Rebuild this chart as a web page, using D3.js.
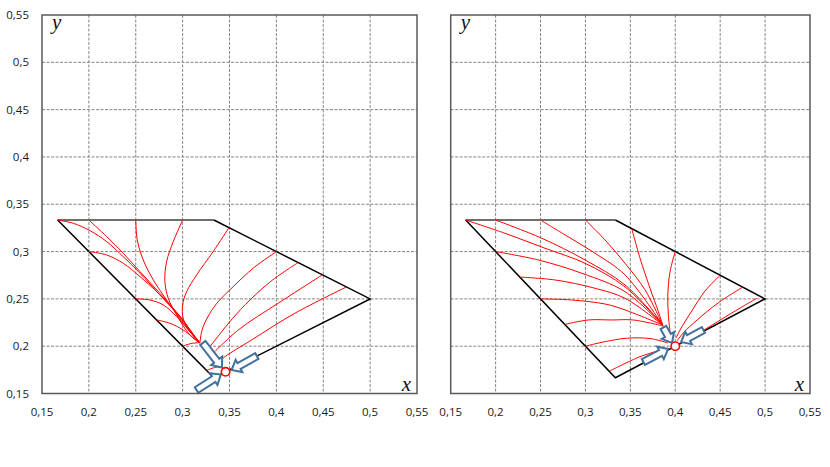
<!DOCTYPE html>
<html><head><meta charset="utf-8">
<script src="https://cdn.jsdelivr.net/npm/d3@7/dist/d3.min.js"></script>
<style>body{margin:0;background:#fff}</style>
</head><body>
<svg id="chart" width="830" height="467"></svg>
<script>
// ---------- data ----------
const xTicks = [0.15, 0.2, 0.25, 0.3, 0.35, 0.4, 0.45, 0.5, 0.55];
const yTicks = [0.15, 0.2, 0.25, 0.3, 0.35, 0.4, 0.45, 0.5, 0.55];
const regionTop = [[1/6, 1/3], [1/3, 1/3]];
const regionRest = [[1/3, 1/3], [0.5, 0.25], [1/3, 1/6], [1/6, 1/3]];

const leftCurves = [
  [[0.1667,0.3333],[0.1834,0.3299],[0.2012,0.3221],[0.2190,0.3105],[0.2367,0.2946],[0.2545,0.2771],[0.2758,0.2541],[0.2971,0.2312],[0.3177,0.2037]],
  [[0.2,0.3333],[0.2190,0.3158],[0.2367,0.2982],[0.2545,0.2788],[0.2758,0.2559],[0.2971,0.2318],[0.3177,0.2037]],
  [[0.2,0.3],[0.2190,0.2964],[0.2367,0.2876],[0.2545,0.2735],[0.2723,0.2576],[0.2936,0.2348],[0.3177,0.2037]],
  [[0.25,0.3333],[0.2516,0.3123],[0.2580,0.2911],[0.2687,0.2700],[0.2829,0.2488],[0.3006,0.2242],[0.3177,0.2037]],
  [[0.3,0.3333],[0.2900,0.3105],[0.2829,0.2893],[0.2811,0.2682],[0.2847,0.2506],[0.2936,0.2330],[0.3078,0.2118],[0.3177,0.2037]],
  [[0.3494,0.3253],[0.3326,0.3000],[0.3149,0.2753],[0.3043,0.2576],[0.3000,0.2436],[0.3006,0.2295],[0.3078,0.2153],[0.3184,0.2048]],
  [[0.25,0.25],[0.2651,0.2488],[0.2793,0.2436],[0.2936,0.2312],[0.3177,0.2037]],
  [[0.2723,0.2277],[0.2865,0.2242],[0.3006,0.2171],[0.3177,0.2037]],
  [[0.3,0.2],[0.309,0.2028],[0.3177,0.2037]],
  [[0.3256,0.1744],[0.3344,0.1775],[0.3416,0.1783]],
  [[0.4,0.3],[0.3760,0.2830],[0.3539,0.2629],[0.3380,0.2470],[0.3291,0.2348],[0.3210,0.2180],[0.3184,0.2031]],
  [[0.4233,0.2884],[0.3960,0.2700],[0.3720,0.2490],[0.3530,0.2290],[0.3390,0.2120],[0.3270,0.1968]],
  [[0.4492,0.2754],[0.4019,0.2454],[0.3593,0.2171],[0.3312,0.1913]],
  [[0.4748,0.2626],[0.4197,0.2348],[0.3736,0.2066],[0.3451,0.1889],[0.3380,0.1830]]
];
const rightCurves = [
  [[0.1667,0.3333],[0.2105,0.3193],[0.2550,0.3035],[0.2996,0.2876],[0.3441,0.2626],[0.3859,0.2224]],
  [[0.2,0.3333],[0.2513,0.3141],[0.2996,0.2911],[0.3441,0.2647],[0.3859,0.2224]],
  [[0.25,0.3333],[0.2773,0.3176],[0.3107,0.2982],[0.3441,0.2753],[0.3859,0.2224]],
  [[0.3,0.3333],[0.3218,0.3123],[0.3441,0.2876],[0.3664,0.2594],[0.3859,0.2224]],
  [[0.2,0.3],[0.2476,0.2911],[0.2959,0.2771],[0.3441,0.2576],[0.3859,0.2224]],
  [[0.227,0.273],[0.2661,0.2700],[0.3107,0.2612],[0.3441,0.2506],[0.3859,0.2224]],
  [[0.25,0.25],[0.2847,0.2488],[0.3218,0.2446],[0.3441,0.2383],[0.3859,0.2224]],
  [[0.277,0.223],[0.3032,0.2277],[0.3293,0.2277],[0.3533,0.2277],[0.3859,0.2214]],
  [[0.3,0.2],[0.3218,0.2048],[0.3460,0.2084],[0.3719,0.2081],[0.3920,0.2034]],
  [[0.3265,0.1735],[0.3608,0.1889],[0.3920,0.1981]],
  [[0.3516,0.3242],[0.3608,0.2929],[0.3719,0.2612],[0.3812,0.2365],[0.3868,0.2203]],
  [[0.4,0.3],[0.3942,0.2788],[0.3917,0.2541],[0.3923,0.2330],[0.3942,0.2150]],
  [[0.45,0.275],[0.4332,0.2584],[0.4184,0.2372],[0.4053,0.2171],[0.4009,0.2087]],
  [[0.475,0.2625],[0.4477,0.2457],[0.4243,0.2277],[0.4090,0.2140],[0.4020,0.2055]],
  [[0.4908,0.2506],[0.4610,0.2340],[0.4351,0.2189],[0.4053,0.2023]]
];
const leftFixed = [0.3458, 0.1729];
const rightFixed = [0.4, 0.2];
const leftArrows = [
  [[0.3216,0.2034],[0.3419,0.1775]],
  [[0.3792,0.1896],[0.3522,0.1748]],
  [[0.3149,0.1537],[0.3408,0.1701]]
];
const rightArrows = [
  [[0.3868,0.2198],[0.3964,0.2034]],
  [[0.4313,0.2171],[0.4065,0.2044]],
  [[0.3645,0.1833],[0.3920,0.1970]]
];

// ---------- drawing ----------
const svg = d3.select("#chart");
const loc = d3.formatLocale({decimal: ",", thousands: " ", grouping: [3], currency: ["", ""]});
const fmt = loc.format("~g");
const plotTop = 15, plotBottom = 393.5;
const panels = [
  {x0: 42, x1: 417, curves: leftCurves, fixed: leftFixed, arrows: leftArrows, yLabels: true},
  {x0: 450.7, x1: 810, curves: rightCurves, fixed: rightFixed, arrows: rightArrows, yLabels: false}
];
const fontTicks = "'Open Sans', 'Liberation Sans', sans-serif";

panels.forEach(p => {
  const x = d3.scaleLinear().domain([0.15, 0.55]).range([p.x0, p.x1]);
  const y = d3.scaleLinear().domain([0.15, 0.55]).range([plotBottom, plotTop]);
  const g = svg.append("g");

  // grid
  g.append("g").selectAll("line").data(xTicks.slice(1, -1)).join("line")
    .attr("x1", d => x(d)).attr("x2", d => x(d)).attr("y1", plotTop).attr("y2", plotBottom)
    .attr("stroke", "#858585").attr("stroke-width", 1).attr("stroke-dasharray", "3,1.5");
  g.append("g").selectAll("line").data(yTicks.slice(1, -1)).join("line")
    .attr("y1", d => y(d)).attr("y2", d => y(d)).attr("x1", p.x0).attr("x2", p.x1)
    .attr("stroke", "#858585").attr("stroke-width", 1).attr("stroke-dasharray", "3,1.5");

  // tick labels
  g.append("g").selectAll("text").data(xTicks).join("text")
    .attr("x", d => x(d)).attr("y", 416).attr("text-anchor", "middle")
    .attr("font-family", fontTicks).attr("font-size", 11.5).attr("fill", "#1a1a1a")
    .text(d => fmt(d));
  if (p.yLabels) {
    g.append("g").selectAll("text").data(yTicks).join("text")
      .attr("x", 29).attr("y", d => y(d) + 4).attr("text-anchor", "end")
      .attr("font-family", fontTicks).attr("font-size", 11.5).attr("fill", "#1a1a1a")
      .text(d => fmt(d));
  }

  // region
  const ln = d3.line().x(d => x(d[0])).y(d => y(d[1]));
  g.append("path").attr("d", ln(regionTop)).attr("fill", "none")
    .attr("stroke", "#6e6e6e").attr("stroke-width", 2);
  g.append("path").attr("d", ln(regionRest)).attr("fill", "none")
    .attr("stroke", "#000").attr("stroke-width", 1.5).attr("stroke-linejoin", "miter");

  // curves
  const cl = d3.line().x(d => x(d[0])).y(d => y(d[1])).curve(d3.curveCatmullRom.alpha(0.5));
  g.append("g").selectAll("path").data(p.curves).join("path")
    .attr("d", cl).attr("fill", "none").attr("stroke", "#ff0000").attr("stroke-width", 1);

  // arrows
  const arrowPts = (a) => {
    const t = [x(a[0][0]), y(a[0][1])], h = [x(a[1][0]), y(a[1][1])];
    const dx = h[0] - t[0], dy = h[1] - t[1], L = Math.hypot(dx, dy);
    const u = [dx / L, dy / L], n = [-u[1], u[0]];
    const sw = 3.3, hw = 7, hl = 8.5;
    const nk = [h[0] - u[0] * hl, h[1] - u[1] * hl];
    const pt = (b, k) => [b[0] + n[0] * k, b[1] + n[1] * k];
    return [pt(t, sw), pt(nk, sw), pt(nk, hw), h, pt(nk, -hw), pt(nk, -sw), pt(t, -sw)];
  };
  g.append("g").selectAll("path").data(p.arrows).join("path")
    .attr("d", a => "M" + arrowPts(a).map(q => q.join(",")).join("L") + "Z")
    .attr("fill", "#fff").attr("stroke", "#41719c").attr("stroke-width", 2)
    .attr("stroke-linejoin", "miter");

  // fixed point
  g.append("circle").attr("cx", x(p.fixed[0])).attr("cy", y(p.fixed[1])).attr("r", 4.2)
    .attr("fill", "#fff").attr("stroke", "#ff0000").attr("stroke-width", 1.6);

  // frame
  g.append("rect").attr("x", p.x0).attr("y", plotTop).attr("width", p.x1 - p.x0).attr("height", plotBottom - plotTop)
    .attr("fill", "none").attr("stroke", "#595959").attr("stroke-width", 1.5);

  // axis names
  g.append("text").attr("x", p.x0 + 10).attr("y", plotTop + 14)
    .attr("font-family", "'Liberation Serif', 'DejaVu Serif', serif").attr("font-style", "italic")
    .attr("font-size", 21).attr("fill", "#111").text("y");
  g.append("text").attr("x", p.x1 - 6).attr("y", plotBottom - 3).attr("text-anchor", "end")
    .attr("font-family", "'Liberation Serif', 'DejaVu Serif', serif").attr("font-style", "italic")
    .attr("font-size", 21).attr("fill", "#111").text("x");
});
</script>
</body></html>
